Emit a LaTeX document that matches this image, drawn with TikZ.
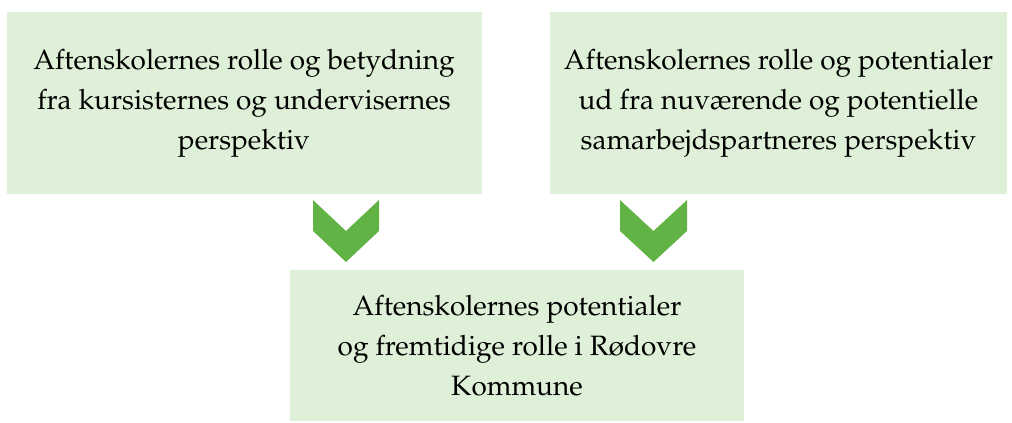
\documentclass[tikz,border=0pt]{standalone}
\usepackage[T1]{fontenc}
\usepackage{mathpazo}
\definecolor{boxgreen}{RGB}{223,240,216}
\definecolor{arrowgreen}{RGB}{98,179,69}
\begin{document}
\begin{tikzpicture}[x=0.5pt, y=-0.5pt]
\tikzset{topic/.style={rectangle, draw=none, fill=boxgreen, align=center, inner sep=0pt,
  font=\fontsize{14}{20}\selectfont}}
\useasboundingbox (0,0) rectangle (1012,423);
%%%%%%%%%%%%%%%%%%%%%%%%%%%%%%% two starting boxes
\node[topic, minimum width=237.5pt, minimum height=91pt](kursister) at (244,103){Aftenskolernes rolle og betydning\\fra kursisternes og undervisernes\\perspektiv};
\node[topic, minimum width=228.5pt, minimum height=91pt](partnere) at (778.5,103){Aftenskolernes rolle og potentialer\\ud fra nuv\ae rende og potentielle\\samarbejdspartneres perspektiv};
%%%%%%%%%%%%%%%%%%%%%%%%%%%%%%% result box
\node[topic, minimum width=227pt, minimum height=75.5pt](rolle) at (517,345.5){Aftenskolernes potentialer\\og fremtidige rolle i R\o dovre\\Kommune};
%%%%%%%%%%%%%%%%%%%%%%%%%%%%%%% chevrons
\coordinate(chevA) at (346,200);
\coordinate(chevB) at (653.5,200);
\fill[arrowgreen] (chevA) ++(-33,0) -- ++(33,31) -- ++(33,-31) -- ++(0,31) -- ++(-33,31) -- ++(-33,-31) -- cycle;
\fill[arrowgreen] (chevB) ++(-33.5,0) -- ++(33.5,31) -- ++(33.5,-31) -- ++(0,31) -- ++(-33.5,31) -- ++(-33.5,-31) -- cycle;
\end{tikzpicture}
\end{document}
